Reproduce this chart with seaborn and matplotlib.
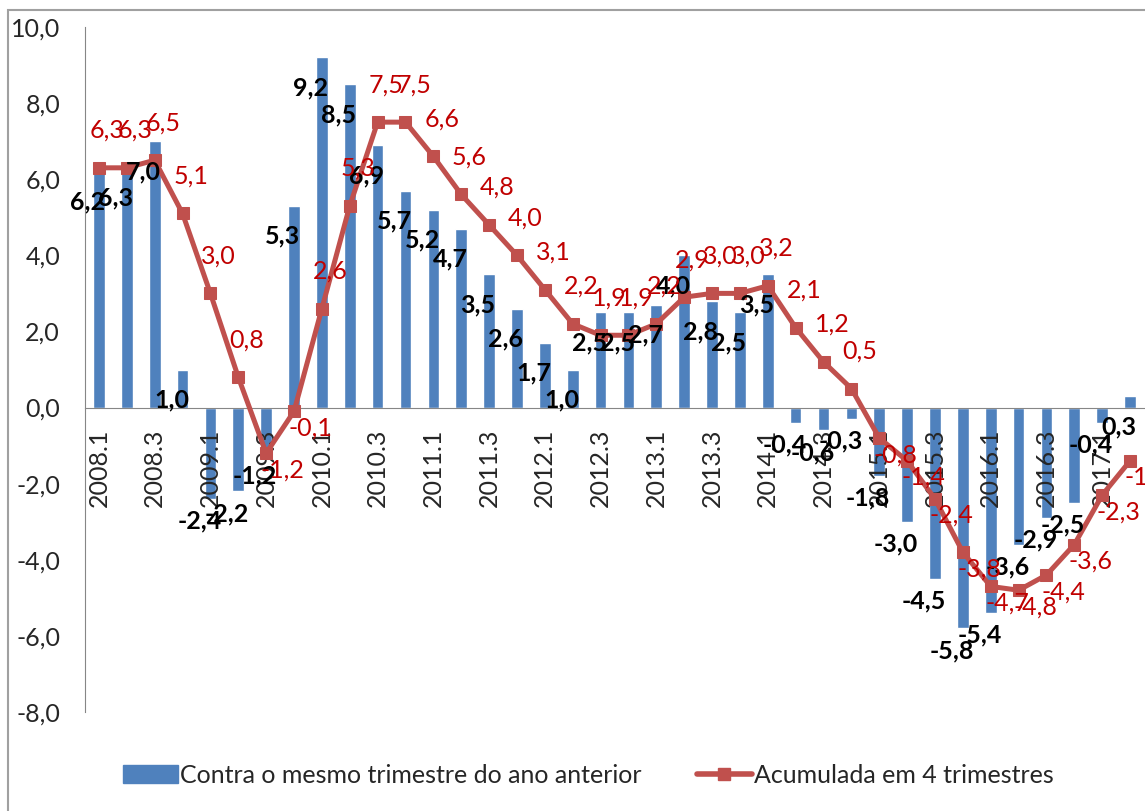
import numpy as np
import matplotlib
matplotlib.use("Agg")
import matplotlib.pyplot as plt
from matplotlib.patches import Patch, Rectangle
from matplotlib.lines import Line2D
import seaborn as sns

# ================= DATA =================
QUARTERS = ["2008.1", "2008.2", "2008.3", "2008.4", "2009.1", "2009.2", "2009.3", "2009.4",
            "2010.1", "2010.2", "2010.3", "2010.4", "2011.1", "2011.2", "2011.3", "2011.4",
            "2012.1", "2012.2", "2012.3", "2012.4", "2013.1", "2013.2", "2013.3", "2013.4",
            "2014.1", "2014.2", "2014.3", "2014.4", "2015.1", "2015.2", "2015.3", "2015.4",
            "2016.1", "2016.2", "2016.3", "2016.4", "2017.1", "2017.2"]

# Contra o mesmo trimestre do ano anterior (bars)
YOY = [6.2, 6.3, 7.0, 1.0, -2.4, -2.2, -1.2, 5.3, 9.2, 8.5, 6.9, 5.7, 5.2, 4.7, 3.5, 2.6,
       1.7, 1.0, 2.5, 2.5, 2.7, 4.0, 2.8, 2.5, 3.5, -0.4, -0.6, -0.3, -1.8, -3.0, -4.5, -5.8,
       -5.4, -3.6, -2.9, -2.5, -0.4, 0.3]

# Acumulada em 4 trimestres (line)
ACC4 = [6.3, 6.3, 6.5, 5.1, 3.0, 0.8, -1.2, -0.1, 2.6, 5.3, 7.5, 7.5, 6.6, 5.6, 4.8, 4.0,
        3.1, 2.2, 1.9, 1.9, 2.2, 2.9, 3.0, 3.0, 3.2, 2.1, 1.2, 0.5, -0.8, -1.4, -2.4, -3.8,
        -4.7, -4.8, -4.4, -3.6, -2.3, -1.4]

LABEL_BAR = "Contra o mesmo trimestre do ano anterior"
LABEL_LINE = "Acumulada em 4 trimestres"

BLUE = "#4F81BD"
RED = "#C0504D"
RED_TXT = "#C00000"
GRAY = "#868686"
FS = 18


def fmt(v):
    return f"{v:.1f}".replace(".", ",")


sns.set_style("white")
plt.rcParams["font.family"] = ["Lato", "DejaVu Sans"]

fig = plt.figure(figsize=(11.45, 8.11), dpi=100)
ax = fig.add_axes([85 / 1145, 1 - 712 / 811, (1144 - 85) / 1145, (712 - 27) / 811])
ax.set_axisbelow(False)

pos = np.arange(len(QUARTERS))
sns.barplot(x=QUARTERS, y=YOY, color=BLUE, width=0.42, saturation=1, ax=ax, zorder=1)
sns.lineplot(x=pos, y=ACC4, color=RED, lw=3.6, marker="s", markersize=9,
             markeredgecolor=RED, ax=ax, zorder=3)

ax.set_xlim(-0.5, len(QUARTERS) - 0.5)
ax.set_ylim(-8, 10)

# bar labels (black bold)
for i, v in enumerate(YOY):
    dy = -22 if v > 0 else -16
    ax.annotate(fmt(v), (i, v), xytext=(-8, dy), textcoords="offset points",
                ha="center", va="center", fontsize=FS, fontweight="bold", color="black",
                zorder=4)

# line labels (red)
for i, v in enumerate(ACC4):
    off = (6, 27) if v >= 0 else (12, -12)
    ax.annotate(fmt(v), (i, v), xytext=off, textcoords="offset points",
                ha="center", va="center", fontsize=FS, color=RED_TXT, zorder=4)

# axes styling
for s in ["top", "right"]:
    ax.spines[s].set_visible(False)
ax.spines["bottom"].set_position(("data", 0))
ax.spines["bottom"].set_color(GRAY)
ax.spines["left"].set_color(GRAY)

ax.set_yticks(np.arange(-8, 11, 2))
ax.set_yticklabels([fmt(t) for t in np.arange(-8, 11, 2)], fontsize=FS)
ax.tick_params(axis="y", length=6, color=GRAY, pad=12)

ax.set_xticks(pos[::2])
ax.set_xticklabels(QUARTERS[::2], rotation=90, fontsize=FS, va="top")
ax.set_xticks(np.arange(-0.5, len(QUARTERS), 1), minor=True)
ax.tick_params(axis="x", which="major", length=0, pad=15)
ax.tick_params(axis="x", which="minor", length=6, color=GRAY, direction="out")
ax.set_xlabel("")
ax.set_ylabel("")

handles = [Patch(color=BLUE),
           Line2D([0], [0], color=RED, lw=4, marker="s", markersize=9)]
fig.legend(handles, [LABEL_BAR, LABEL_LINE], loc="center", bbox_to_anchor=(0.514, 0.044),
           ncol=2, frameon=False, fontsize=FS, columnspacing=2.2, handlelength=2.2,
           handletextpad=0.1)

fig.patches.append(Rectangle((0.007, -0.1), 1.1, 1.088, transform=fig.transFigure,
                             fill=False, edgecolor="#a0a0a0", lw=1.5))

fig.savefig("out.png", dpi=100)
